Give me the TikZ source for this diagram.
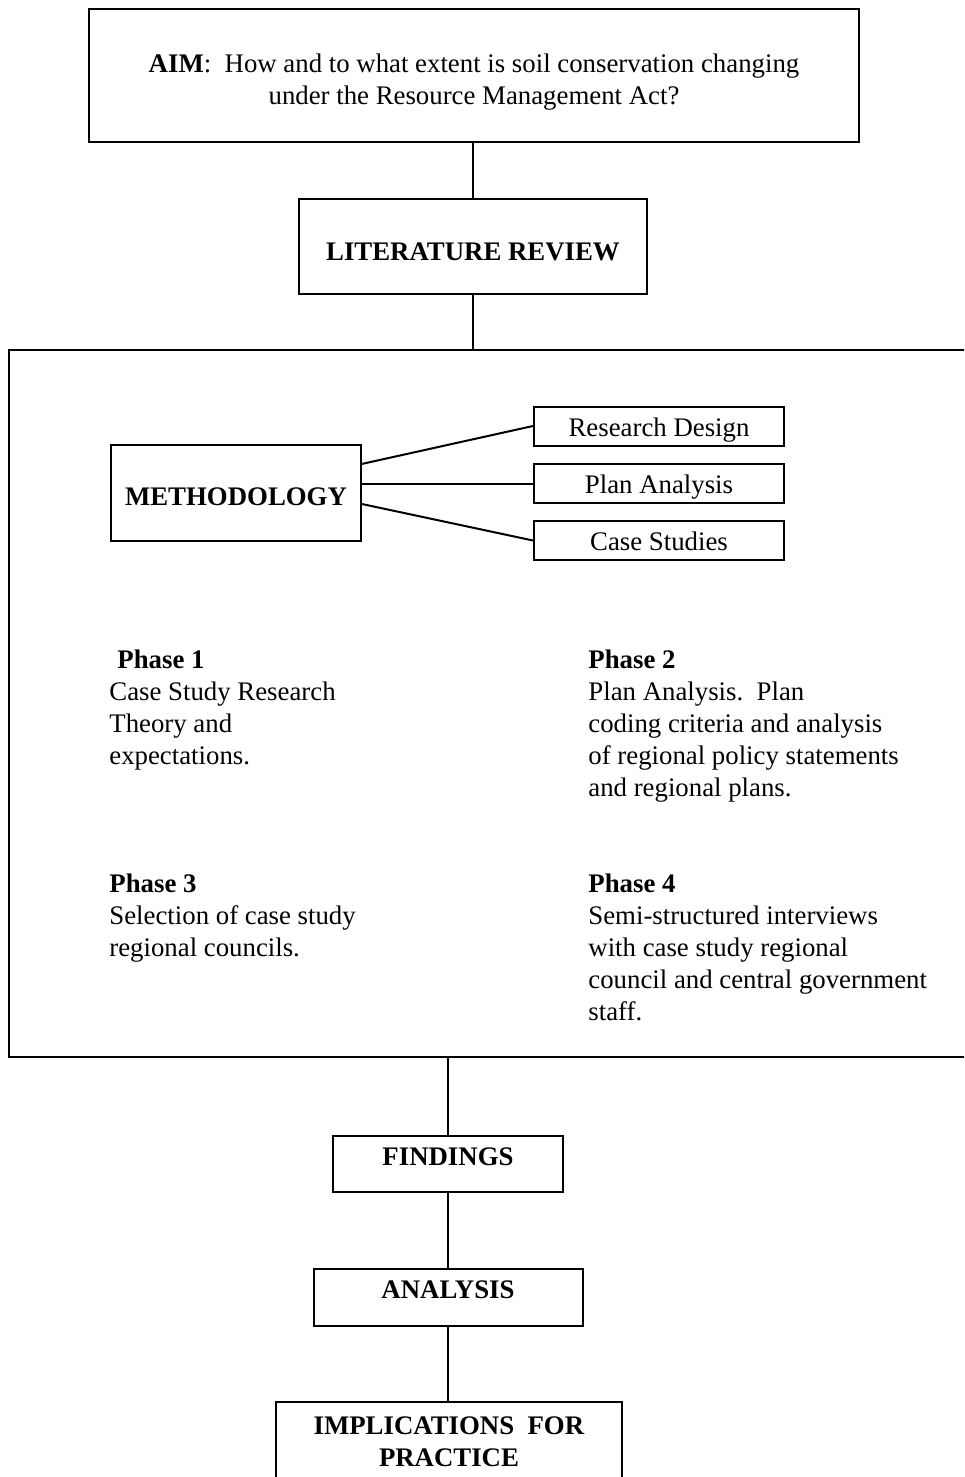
\documentclass[tikz,border=0pt]{standalone}
\usepackage{fontspec}
\setmainfont{Liberation Serif}
\usetikzlibrary{positioning}

\begin{document}
\begin{tikzpicture}[x=0.5pt, y=-0.5pt,
    every node/.style={font=\fontsize{13.4}{16}\selectfont},
    box/.style={draw, line width=1pt, inner sep=0pt, align=center},
    subbox/.style={draw, line width=1pt, inner sep=0pt, minimum width=125pt, minimum height=19.5pt,
        text height=10pt, text depth=0pt},
    phasetext/.style={anchor=north west, inner sep=0pt, align=left},
    link/.style={line width=1pt}]
\useasboundingbox (0,0) rectangle (964,1477);
\clip (0,0) rectangle (964,1477);

% Aim and literature review
\node[box, minimum width=385pt, minimum height=66.5pt] (aim) at (474,75.5)
    {\rule{0pt}{16pt}\textbf{AIM}:\ \ How and to what extent is soil conservation changing\\under the Resource Management Act?};
\node[box, minimum width=174pt, minimum height=47.5pt, text height=13.5pt, text depth=0pt] (litrev) at (473,246.5)
    {\textbf{LITERATURE REVIEW}};

% Methodology frame
\node[draw, line width=1pt, inner sep=0pt, minimum width=490.5pt, minimum height=353.5pt] (frame) at (499.5,703.5) {};

\node[box, minimum width=125pt, minimum height=48pt, text height=12pt, text depth=0pt] (method) at (236,493)
    {\textbf{METHODOLOGY}};
\node[subbox] (design) at (659,426) {Research Design};
\node[subbox] (plan) at (659,483.5) {Plan Analysis};
\node[subbox] (cases) at (659,540.5) {Case Studies};

% Phases
\node[phasetext] (phase1) at (109,649)
    {\hspace*{4pt}\textbf{Phase 1}\\Case Study Research\\Theory and\\expectations.};
\node[phasetext] (phase2) at (588,649)
    {\textbf{Phase 2}\\Plan Analysis.\ \ Plan\\coding criteria and analysis\\of regional policy statements\\and regional plans.};
\node[phasetext] (phase3) at (109,873)
    {\textbf{Phase 3}\\Selection of case study\\regional councils.};
\node[phasetext] (phase4) at (588,873)
    {\textbf{Phase 4}\\Semi-structured interviews\\with case study regional\\council and central government\\staff.};

% Findings and after
\node[box, minimum width=115pt, minimum height=28pt, text height=8pt, text depth=7pt] (findings) at (448,1164)
    {\textbf{FINDINGS}};
\node[box, minimum width=134.5pt, minimum height=28.5pt, text height=8pt, text depth=7pt] (analysis) at (448,1297.5)
    {\textbf{ANALYSIS}};
\node[box, minimum width=173pt, minimum height=40pt] (implic) at (449,1442)
    {\textbf{IMPLICATIONS\ \ FOR}\\\textbf{PRACTICE}};

% Connectors
\draw[link] (litrev.north) -- (litrev.north |- aim.south);
\draw[link] (litrev.south) -- (litrev.south |- frame.north);
\draw[link] (method.13) -- (design.west);
\draw[link] (plan.west -| method.east) -- (plan.west);
\draw[link] (method.-5) -- (cases.west);
\draw[link] (findings.north) -- (findings.north |- frame.south);
\draw[link] (findings) -- (analysis);
\draw[link] (analysis.south) -- (analysis.south |- implic.north);
\end{tikzpicture}
\end{document}
